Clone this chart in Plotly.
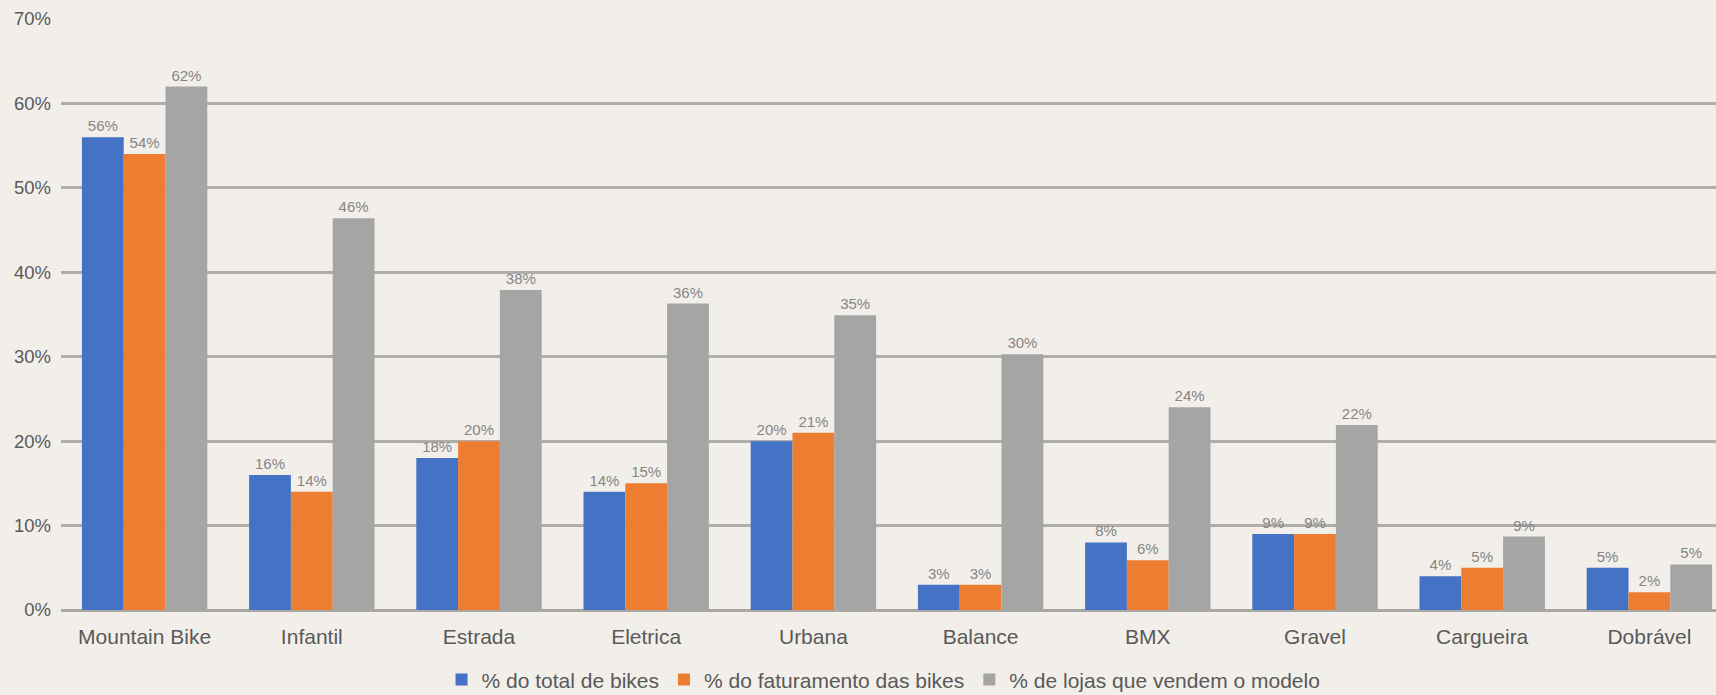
import plotly.graph_objects as go

categories = ["Mountain Bike", "Infantil", "Estrada", "Eletrica", "Urbana",
              "Balance", "BMX", "Gravel", "Cargueira", "Dobrável"]

total_bikes = [56, 16, 18, 14, 20, 3, 8, 9, 4, 5]
faturamento = [54, 14, 20, 15, 21, 3, 5.9, 9, 5, 2.1]
lojas = [62, 46.4, 37.9, 36.3, 34.9, 30.3, 24, 21.9, 8.7, 5.4]

series_names = ["% do total de bikes", "% do faturamento das bikes",
                "% de lojas que vendem o modelo"]
series_values = [total_bikes, faturamento, lojas]
series_colors = ["#4472C4", "#ED7D31", "#A5A5A5"]

BG = "#F2EFEA"
FONT = "Liberation Sans, Arial, sans-serif"

fig = go.Figure()
for name, vals, col in zip(series_names, series_values, series_colors):
    fig.add_trace(go.Bar(
        x=categories, y=vals, name=name,
        marker=dict(color=col, line=dict(width=0)),
        texttemplate="%{y:.0f}%", textposition="outside",
        textfont=dict(family=FONT, size=15, color="#858585"),
        cliponaxis=False,
    ))

W, H = 1716, 695
ml, mr, mt, mb = 61, 0, 19, 85
plot_w = W - ml - mr
group_px = 167.2

fig.update_layout(
    width=W, height=H,
    margin=dict(l=ml, r=mr, t=mt, b=mb, pad=0, autoexpand=False),
    paper_bgcolor=BG, plot_bgcolor=BG,
    barmode="group", bargap=0.25, bargroupgap=0,
    font=dict(family=FONT, color="#595959"),
    showlegend=True,
    legend=dict(orientation="h", x=0.497, xanchor="center", y=-0.118, yanchor="middle",
                font=dict(family=FONT, size=21, color="#595959"),
                bgcolor="rgba(0,0,0,0)", itemwidth=30, traceorder="normal"),
    xaxis=dict(
        range=[-0.5, -0.5 + plot_w / group_px],
        showgrid=False, showline=False, zeroline=False,
        tickfont=dict(family=FONT, size=21, color="#595959"),
        ticks="", ticklabelstandoff=12, automargin=False,
    ),
    yaxis=dict(
        range=[0, 70], dtick=10, ticksuffix="%",
        showgrid=True, gridcolor="#B0AEAA", gridwidth=2.5,
        zeroline=True, zerolinecolor="#A9A8A5", zerolinewidth=2.5,
        showline=False,
        tickfont=dict(family=FONT, size=18.5, color="#595959"),
        ticks="", ticklabelstandoff=9, automargin=False,
    ),
)

fig.write_html("out.html")
